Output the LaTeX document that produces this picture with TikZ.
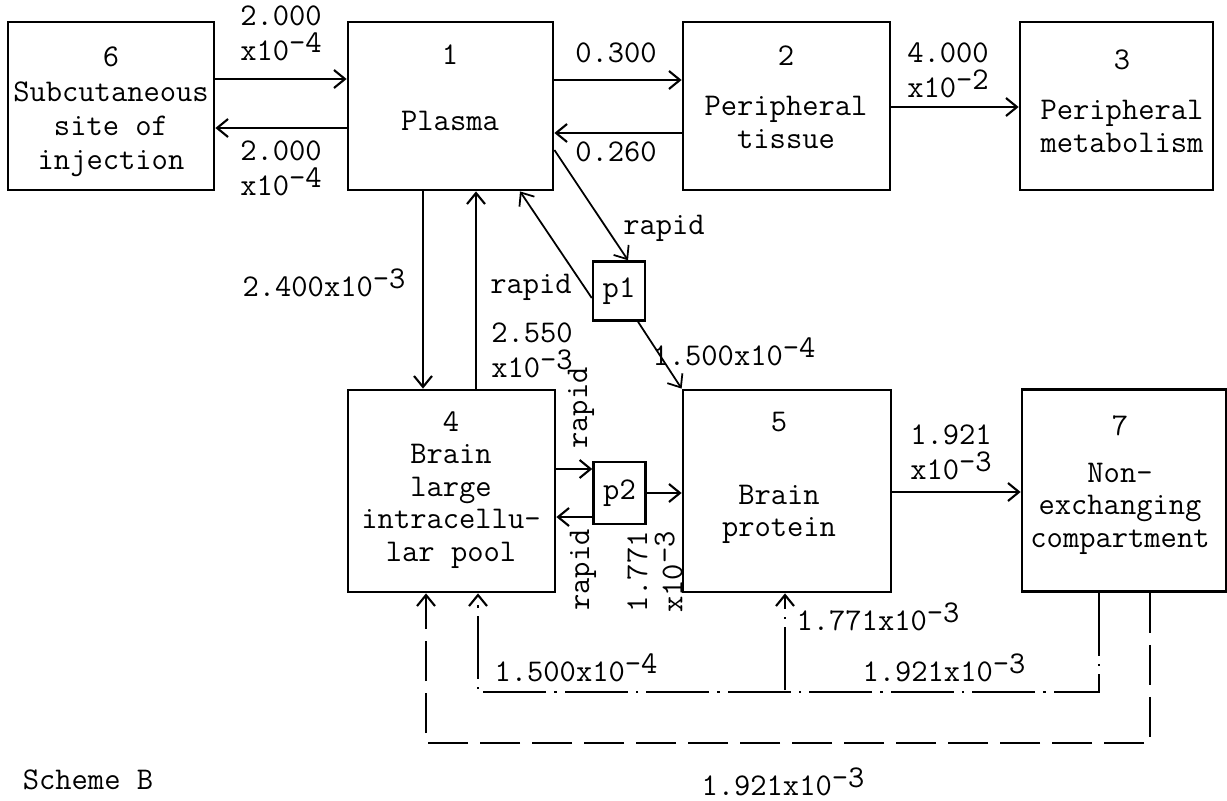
\documentclass[tikz,border=0pt]{standalone}
\usepackage{fontspec}
\usetikzlibrary{arrows.meta,calc}
\newcommand\xten[1]{x10\raisebox{4.5pt}{#1}}

\begin{document}
\begin{tikzpicture}[
        x=0.02cm,y=-0.02cm,
        font=\fontsize{18}{18.5}\selectfont\ttfamily,
        box/.style={draw,line width=1.6pt,inner sep=0pt,
                    minimum width=4.1cm,minimum height=3.36cm},
        bbox/.style={box,minimum height=4.04cm},
        pbox/.style={draw,line width=1.4pt,inner sep=0pt,
                     minimum width=1.04cm,minimum height=1.18cm},
        txt/.style={align=center,inner sep=0pt},
        lab/.style={align=left,inner sep=0pt},
        flow/.style={-{Straight Barb[length=2.2mm,width=3.6mm]},line width=1.2pt},
        slant/.style={flow,line width=1pt},
        dashret/.style={line width=1.3pt,dash pattern=on 0.8cm off 0.24cm},
        dotret/.style={line width=1.3pt,
                       dash pattern=on 1.26cm off 0.16cm on 0.05cm off 0.16cm}]
        \useasboundingbox (0,0) rectangle (1227,801);
        % compartments
        \node[box,minimum width=4.12cm] (b6) at (111,106) {};
        \node[box] (b1) at (450.5,106) {};
        \node[box,minimum width=4.14cm] (b2) at (786.5,106) {};
        \node[box,minimum width=3.86cm] (b3) at (1116.5,106) {};
        \node[bbox,minimum width=4.14cm] (b4) at (451.5,491) {};
        \node[bbox,minimum width=4.16cm] (b5) at (787,491) {};
        \node[bbox,minimum width=4.08cm] (b7) at (1124,490.5) {};
        \node[pbox] (p1) at (619,291) {p1};
        \node[pbox,minimum height=1.24cm] (p2) at (619.5,493) {p2};
        % texts in the boxes
        \node[txt,font=\fontsize{18}{19.5}\selectfont\ttfamily]
          (t6) at (111,112) {6\\Subcutaneous\\site of\\injection};
        \node[txt] (t1) at (450,88) {1\\[19pt]Plasma};
        \node[txt] (t2) at (786,97) {2\\[10pt]Peripheral\\tissue};
        \node[txt] (t3) at (1122,101) {3\\[10pt]Peripheral\\metabolism};
        \node[txt] (t4) at (451,490) {4\\Brain\\large\\intracellu-\\lar pool};
        \node[txt] (t5) at (779,478) {5\\[23pt]Brain\\protein};
        \node[txt] (t7) at (1120,485) {7\\[8pt]Non-\\exchanging\\compartment};
        % exchanges
        \draw[flow] (b6.east |- 0,79) -- (b1.west |- 0,79);
        \draw[flow] (b1.west |- 0,128) -- (b6.east |- 0,128);
        \draw[flow] (b1.east |- 0,80) -- (b2.west |- 0,80);
        \draw[flow] (b2.west |- 0,133) -- (b1.east |- 0,133);
        \draw[flow] (b2.east |- 0,107) -- (b3.west |- 0,107);
        \draw[flow] (b1.south -| 423,0) -- (b4.north -| 423,0);
        \draw[flow] (b4.north -| 476,0) -- (b1.south -| 476,0);
        \draw[slant] (b1.east |- 0,150) -- (p1.north -| 628,0);
        \draw[slant] (p1.west |- 0,298) -- (b1.south -| 520,0);
        \draw[slant] (p1.south -| 638,0) -- (b5.north west);
        \draw[flow] (b4.east |- 0,469) -- (p2.west |- 0,469);
        \draw[flow] (p2.west |- 0,517) -- (b4.east |- 0,517);
        \draw[flow] (p2.east) -- (b5.west |- p2.east);
        \draw[flow] (b5.east |- 0,492) -- (b7.west |- 0,492);
        % returns from 7
        \coordinate (jn) at (785,690);
        \draw[dashret,flow] (b7.south -| 1150,0) -- ++(0,150) -| (b4.south -| 426,0);
        \draw[dotret,flow] (b7.south -| 1099,0) -- ++(0,99) -| (b4.south -| 478,0);
        \draw[dotret,flow] (jn) -- (b5.south -| 785,0);
        % rate constants
        \node[lab] (l61) at (281,33) {2.000\\[1.5pt]\xten{-4}};
        \node[lab] (l16) at (281,168) {2.000\\[1.5pt]\xten{-4}};
        \node[lab] (l12) at (616,53) {0.300};
        \node[lab] (l21) at (616,152) {0.260};
        \node[lab] (l23) at (948,70) {4.000\\[1.5pt]\xten{-2}};
        \node[lab] (l14) at (324,283) {2.400\xten{-3}};
        \node[lab] (l41) at (532,350) {2.550\\[1.5pt]\xten{-3}};
        \node[lab] (lr1) at (531,287) {rapid};
        \node[lab] (lr2) at (664,228) {rapid};
        \node[lab] (l15) at (734,352) {1.500\xten{-4}};
        \node[lab,rotate=90] (lr3) at (581,408) {rapid};
        \node[lab,rotate=90] (lr4) at (583,570) {rapid};
        \node[lab,rotate=90] (l25) at (655,572) {1.771\\[1.5pt]\xten{-3}};
        \node[lab] (l57) at (951,452) {1.921\\[1.5pt]\xten{-3}};
        \node[lab] (lb5) at (878,617) {1.771\xten{-3}};
        \node[lab] (lb7) at (944,668) {1.921\xten{-3}};
        \node[lab] (lb4) at (576,668) {1.500\xten{-4}};
        \node[lab] (ld) at (783,782) {1.921\xten{-3}};
        \node[lab] (sch) at (88,780) {Scheme B};
      \end{tikzpicture}
\end{document}
